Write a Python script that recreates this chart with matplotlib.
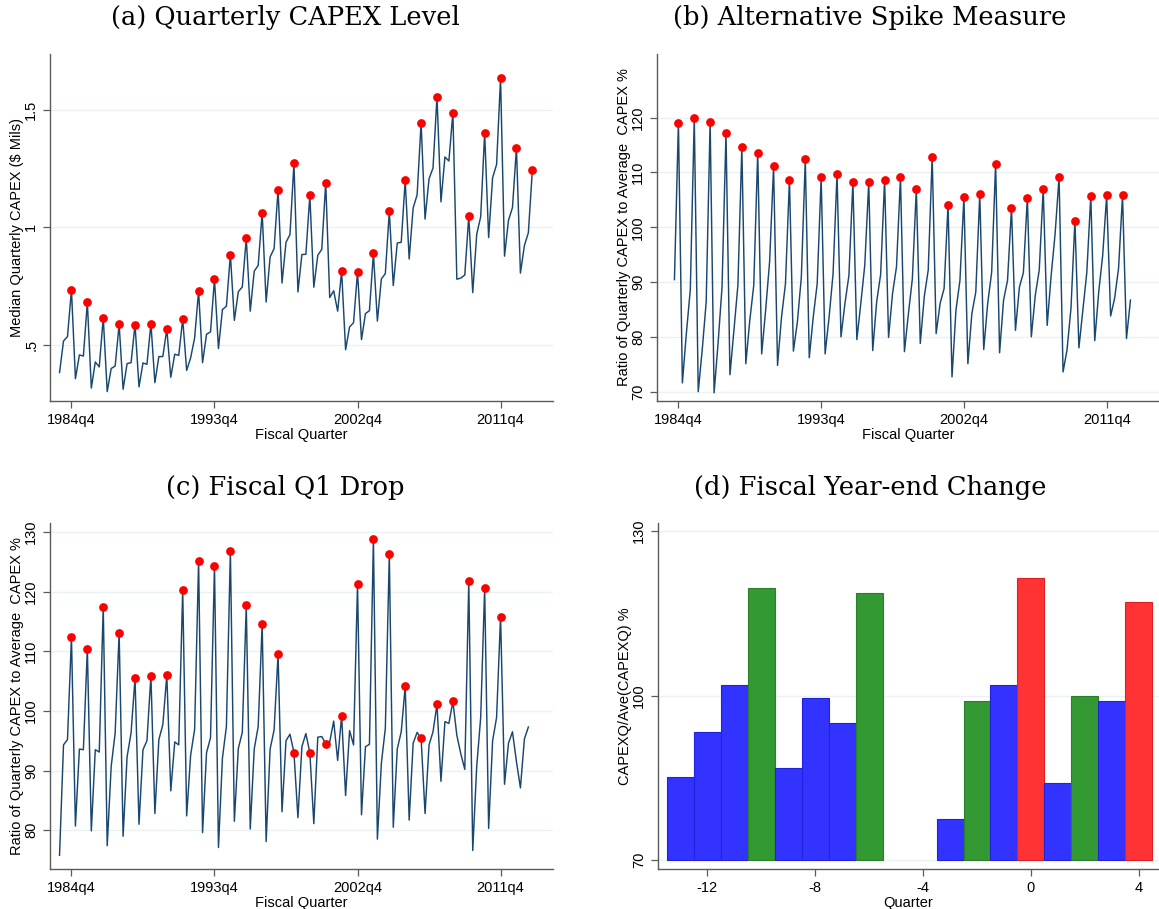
# ============================================================
# CAPEX SEASONALITY FIGURE
# four panels: level, spike ratio, Q1 drop, year-end change
# ============================================================

import numpy as np
import matplotlib
matplotlib.use("Agg")
import matplotlib.pyplot as plt
from matplotlib.ticker import FixedLocator, FixedFormatter


# ============================================================
# DATA
# ============================================================

# (a) median quarterly CAPEX, $ Mils, 1984q1 .. 2013q4
level_start = "1984q1"
level_values = [
    0.382, 0.516, 0.535, 0.733,
    0.356, 0.457, 0.452, 0.681,
    0.316, 0.427, 0.406, 0.616,
    0.301, 0.399, 0.410, 0.587,
    0.311, 0.420, 0.424, 0.586,
    0.321, 0.423, 0.417, 0.590,
    0.339, 0.450, 0.450, 0.567,
    0.362, 0.460, 0.455, 0.609,
    0.391, 0.445, 0.529, 0.729,
    0.424, 0.545, 0.555, 0.780,
    0.484, 0.650, 0.664, 0.884,
    0.604, 0.726, 0.746, 0.953,
    0.643, 0.813, 0.838, 1.062,
    0.682, 0.874, 0.909, 1.160,
    0.763, 0.936, 0.969, 1.272,
    0.725, 0.884, 0.885, 1.136,
    0.745, 0.881, 0.906, 1.190,
    0.701, 0.730, 0.643, 0.813,
    0.479, 0.576, 0.594, 0.810,
    0.522, 0.633, 0.645, 0.889,
    0.601, 0.780, 0.803, 1.068,
    0.752, 0.933, 0.936, 1.199,
    0.865, 1.082, 1.138, 1.444,
    1.035, 1.206, 1.252, 1.555,
    1.108, 1.299, 1.282, 1.488,
    0.779, 0.784, 0.797, 1.047,
    0.722, 0.970, 1.045, 1.401,
    0.956, 1.211, 1.267, 1.635,
    0.877, 1.030, 1.084, 1.339,
    0.805, 0.922, 0.977, 1.242,
]
level_marks = ["%dq4" % y for y in range(1984, 2014)]

# (b) ratio of quarterly CAPEX to average CAPEX, 1984q3 .. 2013q2
spike_start = "1984q3"
spike_values = [
    90.45, 119.1,
    71.6, 80.6, 88.6, 119.95,
    70.0, 77.6, 86.3, 119.2,
    69.8, 78.8, 89.1, 117.1,
    73.1, 81.2, 89.4, 114.6,
    75.1, 83.0, 89.4, 113.6,
    76.9, 84.9, 93.7, 111.1,
    74.8, 83.6, 89.7, 108.7,
    77.4, 82.7, 90.9, 112.4,
    76.2, 83.6, 89.7, 109.1,
    76.9, 83.6, 91.5, 109.7,
    80.0, 86.1, 91.2, 108.2,
    79.5, 86.1, 93.1, 108.2,
    77.5, 86.4, 91.4, 108.6,
    79.9, 87.9, 92.8, 109.1,
    77.3, 84.2, 90.6, 107.0,
    78.8, 87.3, 92.2, 112.9,
    80.6, 86.1, 88.8, 104.1,
    72.7, 84.9, 90.3, 105.5,
    75.1, 84.2, 88.2, 106.1,
    77.7, 86.1, 91.8, 111.6,
    77.1, 86.7, 90.3, 103.5,
    81.2, 89.1, 91.7, 105.4,
    80.0, 87.6, 92.2, 107.0,
    82.1, 91.2, 98.8, 109.2,
    73.6, 77.6, 85.2, 101.2,
    78.0, 84.9, 91.8, 105.7,
    79.3, 88.2, 94.9, 105.8,
    83.8, 87.0, 92.5, 105.8,
    79.7, 86.7,
]
spike_marks = ["%dq4" % y for y in range(1984, 2013)]

# (c) fiscal Q1 drop ratio, 1984q1 .. 2013q3
drop_start = "1984q1"
drop_values = [
    75.8, 94.3, 95.2, 112.4,
    80.7, 93.6, 93.5, 110.4,
    79.9, 93.5, 93.1, 117.5,
    77.4, 90.7, 96.3, 113.1,
    79.0, 92.3, 96.3, 105.5,
    81.0, 93.5, 95.0, 105.9,
    82.8, 95.2, 97.7, 106.0,
    86.6, 94.8, 94.3, 120.3,
    82.4, 92.6, 96.9, 125.1,
    79.6, 93.0, 95.5, 124.3,
    77.1, 92.1, 97.4, 126.8,
    81.5, 93.7, 96.4, 117.7,
    80.2, 93.6, 97.4, 114.6,
    78.1, 93.6, 96.8, 109.5,
    83.1, 95.0, 96.1, 93.0,
    82.1, 94.0, 96.2, 93.0,
    81.1, 95.6, 95.7, 94.5,
    94.8, 98.3, 91.7, 99.2,
    85.8, 96.7, 94.3, 121.3,
    82.6, 94.0, 94.4, 128.8,
    78.5, 91.2, 97.1, 126.3,
    80.5, 93.6, 96.5, 104.1,
    81.7, 94.6, 96.4, 95.4,
    82.8, 94.3, 96.5, 101.1,
    88.2, 98.2, 97.9, 101.6,
    95.9, 92.8, 90.2, 121.7,
    76.6, 90.7, 98.9, 120.6,
    80.3, 95.0, 98.9, 115.8,
    87.7, 94.6, 96.5, 91.5,
    87.1, 95.3, 97.3,
]
drop_marks = ["%dq4" % y for y in range(1984, 2012)]

# (d) CAPEXQ / Ave(CAPEXQ) around fiscal year-end
event_quarters = [-13, -12, -11, -10, -9, -8, -7, -6,
                  -3, -2, -1, 0, 1, 2, 3, 4]
event_values = [85.1, 93.4, 102.0, 119.7, 86.9, 99.5, 95.1, 118.8,
                77.6, 99.1, 101.9, 121.5, 84.0, 100.0, 99.1, 117.1]
event_groups = ["other", "other", "other", "q4", "other", "other", "other", "q4",
                "other", "q4", "other", "yearend", "other", "q4", "other", "yearend"]

date_ticks = ["1984q4", "1993q4", "2002q4", "2011q4"]


# ============================================================
# STYLE
# ============================================================

LINE = "#1a476f"
DOT = "#ff0000"
GRID = "#eaf2f3"
SPINE = "#5a5a5a"
GROUP_FACE = {"other": "#3333ff", "q4": "#339933", "yearend": "#ff3333"}
GROUP_EDGE = {"other": "#2222dd", "q4": "#2a7f2a", "yearend": "#e02020"}

plt.rcParams["font.family"] = ["Liberation Sans", "DejaVu Sans"]
TICK_SIZE = 10.5
LABEL_SIZE = 10.5
TITLE_FONT = dict(family="DejaVu Serif", size=18.5)

W, H = 1159, 909


def qindex(label):
    year, q = label.split("q")
    return (int(year) - 1960) * 4 + int(q) - 1


def px_axes(fig, left, top, right, bottom):
    return fig.add_axes([left / W, 1 - bottom / H,
                         (right - left) / W, (bottom - top) / H])


def style_axes(ax, yticks, ylabels):
    for side in ["top", "right"]:
        ax.spines[side].set_visible(False)
    for side in ["left", "bottom"]:
        ax.spines[side].set_color(SPINE)
        ax.spines[side].set_linewidth(1.0)
    ax.tick_params(colors=SPINE, labelcolor="black",
                   labelsize=TICK_SIZE, length=5, width=0.9)
    ax.yaxis.set_major_locator(FixedLocator(yticks))
    ax.yaxis.set_major_formatter(FixedFormatter(ylabels))
    for lab in ax.get_yticklabels():
        lab.set_rotation(90)
        lab.set_va("center")
    ax.grid(axis="y", color=GRID, linewidth=1.0)
    ax.set_axisbelow(True)


def series_panel(ax, start, values, marks, ylim, yticks, ylabels, ylabel):
    x = qindex(start) + np.arange(len(values))
    y = np.array(values)
    ax.plot(x, y, color=LINE, linewidth=1.05, zorder=2)

    mx = [qindex(m) for m in marks]
    my = [values[qindex(m) - qindex(start)] for m in marks]
    ax.plot(mx, my, linestyle="none", marker="o", markersize=6.3,
            color=DOT, markeredgewidth=0, zorder=3)

    ax.set_xlim(qindex("1984q4") - 5.4, qindex("1984q4") + 121.2)
    ax.set_ylim(*ylim)
    ax.set_xticks([qindex(t) for t in date_ticks])
    ax.set_xticklabels(date_ticks)
    style_axes(ax, yticks, ylabels)
    ax.set_xlabel("Fiscal Quarter", fontsize=LABEL_SIZE, labelpad=1)
    ax.set_ylabel(ylabel, fontsize=LABEL_SIZE, labelpad=0)


# ============================================================
# FIGURE
# ============================================================

fig = plt.figure(figsize=(W / 100, H / 100), dpi=100)

ax_a = px_axes(fig, 50, 54, 553, 401)
series_panel(ax_a, level_start, level_values, level_marks,
             (0.261, 1.737), [0.5, 1.0, 1.5], [".5", "1", "1.5"],
             "Median Quarterly CAPEX ($ Mils)")

ax_b = px_axes(fig, 657, 54, 1159, 401)
series_panel(ax_b, spike_start, spike_values, spike_marks,
             (68.3, 131.6), [70, 80, 90, 100, 110, 120],
             ["70", "80", "90", "100", "110", "120"],
             "Ratio of Quarterly CAPEX to Average  CAPEX %")

ax_c = px_axes(fig, 50, 523, 553, 869)
series_panel(ax_c, drop_start, drop_values, drop_marks,
             (73.5, 131.5), [80, 90, 100, 110, 120, 130],
             ["80", "90", "100", "110", "120", "130"],
             "Ratio of Quarterly CAPEX to Average  CAPEX %")

ax_d = px_axes(fig, 658, 523, 1159, 869)
base = 70
ax_d.bar(event_quarters,
         [v - base for v in event_values],
         bottom=base, width=1.0,
         color=[GROUP_FACE[g] for g in event_groups],
         edgecolor=[GROUP_EDGE[g] for g in event_groups],
         linewidth=0.8, zorder=2)
ax_d.set_xlim(-13.83, 4.75)
ax_d.set_ylim(68.4, 131.5)
ax_d.set_xticks([-12, -8, -4, 0, 4])
ax_d.set_xticklabels(["-12", "-8", "-4", "0", "4"])
style_axes(ax_d, [70, 100, 130], ["70", "100", "130"])
ax_d.set_xlabel("Quarter", fontsize=LABEL_SIZE, labelpad=1)
ax_d.set_ylabel("CAPEXQ/Ave(CAPEXQ) %", fontsize=LABEL_SIZE, labelpad=0)

# panel titles
fig.text(285 / W, 1 - 17 / H, "(a) Quarterly CAPEX Level",
         ha="center", va="center", **TITLE_FONT)
fig.text(870 / W, 1 - 17 / H, "(b) Alternative Spike Measure",
         ha="center", va="center", **TITLE_FONT)
fig.text(285 / W, 1 - 487 / H, "(c) Fiscal Q1 Drop",
         ha="center", va="center", **TITLE_FONT)
fig.text(870 / W, 1 - 487 / H, "(d) Fiscal Year-end Change",
         ha="center", va="center", **TITLE_FONT)

fig.savefig("out.png", dpi=100)
